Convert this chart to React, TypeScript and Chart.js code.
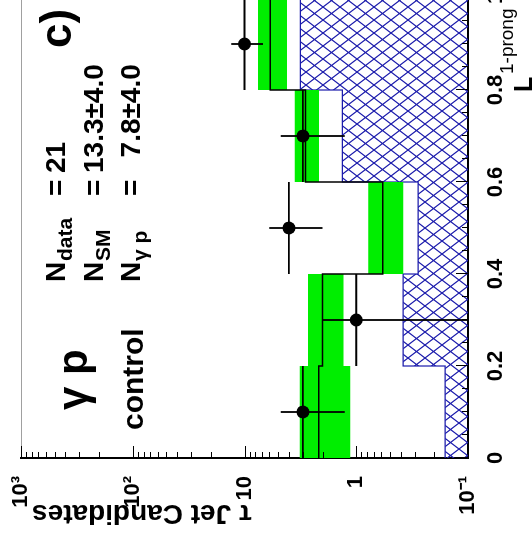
import React, { useEffect, useRef } from 'react';
import { Chart, registerables } from 'chart.js';

Chart.register(...registerables);

// ---------- data ----------
const binEdges = [0, 0.2, 0.4, 0.6, 0.8, 1.0];
const binCenters = [0.1, 0.3, 0.5, 0.7, 0.9];
const dataCounts = [3, 1, 4, 3, 10];
const dataErrors = [1.73, 1.0, 2.0, 1.73, 3.16];
const smTotal = [2.17, 2.0, 0.58, 2.85, 5.87];
const smError = [1.04, 0.7, 0.2, 0.7, 1.7];
const otherBkg = [0.16, 0.38, 0.28, 1.33, 3.16];

const xTickValues = [0, 0.2, 0.4, 0.6, 0.8, 1.0];
const xTickLabels = ['0', '0.2', '0.4', '0.6', '0.8', '1'];
const yTickValues = [0.1, 1, 10, 100, 1000];
const yTickLabels = ['10⁻¹', '1', '10', '10²', '10³'];

const Y_MIN = 0.1;
const Y_MAX = 1000;

const statLines = [
  { sub: 'data', value: '21' },
  { sub: 'SM', value: '13.3±4.0' },
  { sub: 'γ p', value: '7.8±4.0' },
];

const FONT = '"Liberation Sans", Arial, Helvetica, sans-serif';
const GREEN = '#00ee00';
const BLUE = '#1c1cac';

function stepPoints(values: number[]) {
  // with stepped: 'before' the line stays at point i's value until edge i+1
  return binEdges.map((e, i) => ({ x: e, y: values[Math.min(i, values.length - 1)] }));
}

function makeHatch(ctx: CanvasRenderingContext2D) {
  const w = 13;
  const h = 17;
  const c = document.createElement('canvas');
  c.width = w;
  c.height = h;
  const g = c.getContext('2d')!;
  g.strokeStyle = BLUE;
  g.lineWidth = 1.2;
  g.beginPath();
  for (let k = -1; k <= 1; k++) {
    g.moveTo(k * w - w, -h);
    g.lineTo(k * w + 2 * w, 2 * h);
    g.moveTo(k * w + 2 * w, -h);
    g.lineTo(k * w - w, 2 * h);
  }
  g.stroke();
  return ctx.createPattern(c, 'repeat');
}

function drawText(
  ctx: CanvasRenderingContext2D,
  s: string,
  x: number,
  y: number,
  size: number,
  weight = 'bold',
  align: CanvasTextAlign = 'left'
) {
  ctx.font = `${weight} ${size}px ${FONT}`;
  ctx.textAlign = align;
  ctx.textBaseline = 'alphabetic';
  ctx.fillStyle = '#000';
  ctx.fillText(s, x, y);
  return ctx.measureText(s).width;
}

const decorPlugin = {
  id: 'decor',
  afterDraw(chart: any) {
    const { ctx, chartArea: a, scales } = chart;
    const x = scales.x;
    const y = scales.y;
    ctx.save();
    // thin top frame line
    ctx.strokeStyle = '#a0a0a0';
    ctx.lineWidth = 1;
    ctx.beginPath();
    ctx.moveTo(a.left, a.top + 0.5);
    ctx.lineTo(a.right, a.top + 0.5);
    ctx.stroke();

    // inward ticks
    ctx.strokeStyle = '#000';
    ctx.lineWidth = 1;
    ctx.beginPath();
    for (let d = -1; d <= 3; d++) {
      for (let k = 1; k <= 9; k++) {
        const v = k * Math.pow(10, d);
        if (v > Y_MAX + 1e-9) break;
        const p = Math.round(y.getPixelForValue(v)) + 0.5;
        const len = k === 1 ? 12 : 6;
        ctx.moveTo(a.left, p);
        ctx.lineTo(a.left + len, p);
      }
    }
    for (let i = 0; i <= 20; i++) {
      const v = i * 0.05;
      const p = Math.round(x.getPixelForValue(v)) + 0.5;
      const len = i % 4 === 0 ? 12 : 6;
      ctx.moveTo(p, a.bottom);
      ctx.lineTo(p, a.bottom - len);
    }
    ctx.stroke();

    // labels inside the frame
    drawText(ctx, 'c)', 492, 71, 44);
    drawText(ctx, 'γ p', 130, 87, 42);
    drawText(ctx, 'control', 110, 143, 30);

    const baselines = [65, 103, 140];
    ctx.font = `bold 28px ${FONT}`;
    const valueEnd = 367 + ctx.measureText(statLines[1].value).width;
    statLines.forEach((ln, i) => {
      const b = baselines[i];
      drawText(ctx, 'N', 258, b, 28);
      drawText(ctx, ln.sub, 279, b + 7, 21);
      drawText(ctx, '=', 344, b, 28);
      if (i === 0) drawText(ctx, ln.value, 367, b, 28);
      else drawText(ctx, ln.value, valueEnd, b, 28, 'bold', 'right');
    });

    // x axis title
    drawText(ctx, 'L', 448, 532, 25);
    drawText(ctx, '1-prong', 466, 513, 19, 'normal');

    // y axis title (rotated)
    ctx.save();
    ctx.translate(35, 32);
    ctx.rotate(-Math.PI / 2);
    drawText(ctx, 'τ Jet Candidates', 0, 0, 28, 'bold', 'right');
    ctx.restore();

    ctx.restore();
  },
};

export default function App() {
  const ref = useRef<HTMLCanvasElement>(null);

  useEffect(() => {
    const canvas = ref.current!;
    const ctx = canvas.getContext('2d')!;
    const hatch = makeHatch(ctx);

    const xErrData: any[] = [];
    const yErrData: any[] = [];
    binCenters.forEach((c, i) => {
      const n = dataCounts[i];
      const e = dataErrors[i];
      xErrData.push({ x: binEdges[i], y: n }, { x: binEdges[i + 1], y: n }, { x: c, y: null });
      yErrData.push({ x: c, y: Math.max(n - e, Y_MIN) }, { x: c, y: n + e }, { x: c, y: null });
    });

    const chart = new Chart(ctx, {
      type: 'line',
      data: {
        datasets: [
          {
            type: 'scatter',
            data: binCenters.map((c, i) => ({ x: c, y: dataCounts[i] })),
            pointRadius: 6.5,
            pointBackgroundColor: '#000',
            pointBorderWidth: 0,
            showLine: false,
            order: 0,
          } as any,
          {
            data: xErrData,
            borderColor: '#000',
            borderWidth: 1.8,
            pointRadius: 0,
            spanGaps: false,
            fill: false,
            order: 1,
          },
          {
            data: yErrData,
            borderColor: '#000',
            borderWidth: 1.8,
            pointRadius: 0,
            spanGaps: false,
            fill: false,
            order: 1,
          },
          {
            data: stepPoints(smTotal),
            stepped: 'before',
            borderColor: '#000',
            borderWidth: 1.5,
            pointRadius: 0,
            fill: false,
            order: 2,
          },
          {
            data: stepPoints(smTotal.map((v, i) => v + smError[i])),
            stepped: 'before',
            borderColor: 'rgba(0,0,0,0)',
            borderWidth: 1,
            backgroundColor: GREEN,
            pointRadius: 0,
            fill: '+1',
            order: 3,
          },
          {
            data: stepPoints(smTotal.map((v, i) => v - smError[i])),
            stepped: 'before',
            borderColor: 'rgba(0,0,0,0)',
            borderWidth: 1,
            pointRadius: 0,
            fill: false,
            order: 4,
          },
          {
            data: stepPoints(otherBkg),
            stepped: 'before',
            borderColor: BLUE,
            borderWidth: 1.2,
            backgroundColor: hatch as any,
            pointRadius: 0,
            fill: 'start',
            order: 5,
          },
        ],
      },
      options: {
        animation: false,
        responsive: false,
        events: [],
        layout: { padding: { top: 21, right: 18, left: 0, bottom: 0 } },
        plugins: {
          legend: { display: false },
          tooltip: { enabled: false },
        },
        scales: {
          x: {
            type: 'linear',
            min: 0,
            max: 1,
            grid: { display: false },
            border: { display: true, color: '#000', width: 2 },
            afterBuildTicks: (s: any) => {
              s.ticks = xTickValues.map((v) => ({ value: v }));
            },
            afterFit: (s: any) => {
              s.height = 64;
              s.paddingLeft = 0;
              s.paddingRight = 0;
              s.paddingTop = 0;
              s.paddingBottom = 0;
            },
            ticks: {
              autoSkip: false,
              maxRotation: 0,
              padding: 7,
              color: '#000',
              font: { family: FONT, weight: 'bold', size: 22 },
              callback: (v: any) => {
                const i = xTickValues.findIndex((t) => Math.abs(t - Number(v)) < 1e-9);
                return i >= 0 ? xTickLabels[i] : '';
              },
            },
          },
          y: {
            type: 'logarithmic',
            min: Y_MIN,
            max: Y_MAX,
            grid: { display: false },
            border: { display: true, color: '#000', width: 2 },
            afterBuildTicks: (s: any) => {
              s.ticks = yTickValues.map((v) => ({ value: v }));
            },
            afterFit: (s: any) => {
              s.width = 82;
              s.paddingLeft = 0;
              s.paddingRight = 0;
              s.paddingTop = 0;
              s.paddingBottom = 0;
            },
            ticks: {
              autoSkip: false,
              padding: 10,
              color: '#000',
              font: { family: FONT, weight: 'bold', size: 22 },
              callback: (v: any) => {
                const i = yTickValues.findIndex((t) => Math.abs(t - Number(v)) / t < 1e-6);
                return i >= 0 ? yTickLabels[i] : '';
              },
            },
          },
        },
      } as any,
      plugins: [decorPlugin],
    });

    return () => chart.destroy();
  }, []);

  return (
    <div
      style={{
        position: 'fixed',
        left: 0,
        top: 0,
        width: 532,
        height: 540,
        overflow: 'hidden',
        background: '#fff',
      }}
    >
      <canvas
        ref={ref}
        width={560}
        height={532}
        style={{
          position: 'absolute',
          left: 0,
          top: 0,
          width: 560,
          height: 532,
          transformOrigin: '0 0',
          transform: 'translate(0px, 540px) rotate(-90deg)',
        }}
      />
    </div>
  );
}
